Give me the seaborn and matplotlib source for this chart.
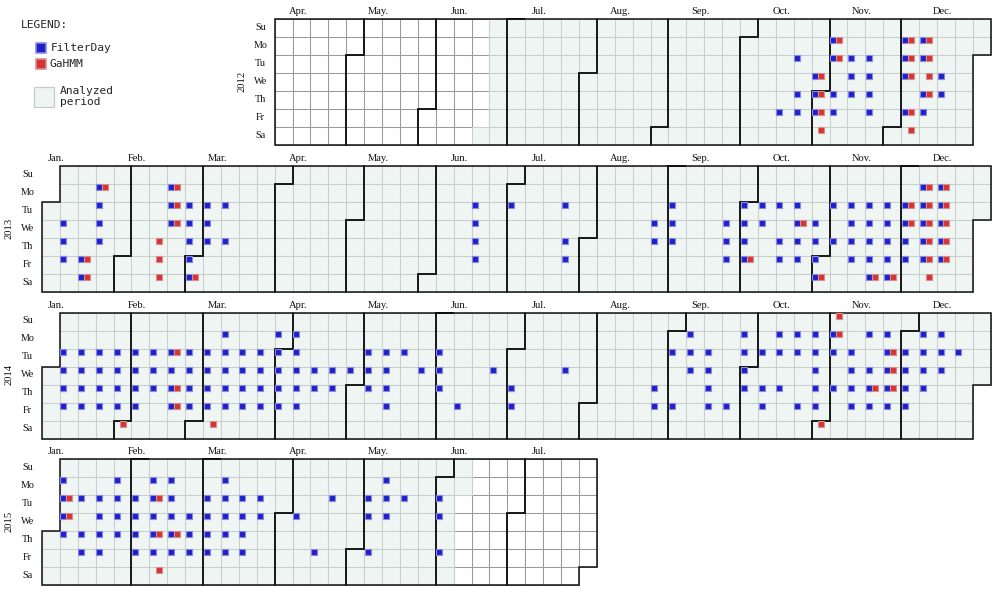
import matplotlib
matplotlib.use("Agg")
import matplotlib.pyplot as plt
from matplotlib.patches import Rectangle, Polygon
from matplotlib.collections import PatchCollection
import pandas as pd
import seaborn as sns

# ---- data -------------------------------------------------------------
years = [2012, 2013, 2014, 2015]
shown_from = ["2012-04-01", "2013-01-01", "2014-01-01", "2015-01-01"]
shown_to = ["2012-12-31", "2013-12-31", "2014-12-31", "2015-07-31"]
analyzed_from = "2012-06-23"
analyzed_to = "2015-06-08"
day_names = ["Su", "Mo", "Tu", "We", "Th", "Fr", "Sa"]
month_names = ["Jan.", "Feb.", "Mar.", "Apr.", "May.", "Jun.",
               "Jul.", "Aug.", "Sep.", "Oct.", "Nov.", "Dec."]

filterday_2012 = ["10-19", "10-23", "10-25", "10-26", "10-31", "11-01", "11-02", "11-05",
                  "11-06", "11-08", "11-09", "11-13", "11-14", "11-15", "11-20", "11-21",
                  "11-22", "11-23", "12-03", "12-04", "12-05", "12-07", "12-10", "12-11",
                  "12-13", "12-14", "12-19", "12-20"]
gahmm_2012 = ["10-31", "11-01", "11-02", "11-03", "11-05", "11-06", "12-03", "12-04",
              "12-05", "12-07", "12-08", "12-10", "12-11", "12-12", "12-13"]

filterday_2013 = ["01-09", "01-10", "01-11", "01-18", "01-19", "01-21", "01-22", "01-23",
                  "01-24", "02-18", "02-19", "02-20", "02-26", "02-27", "02-28", "03-01",
                  "03-02", "03-05", "03-06", "03-07", "03-12", "03-14", "06-18", "06-19",
                  "06-20", "06-21", "07-02", "07-23", "07-25", "07-26", "08-28", "08-29",
                  "09-03", "09-04", "09-05", "09-25", "09-26", "09-27", "10-01", "10-02",
                  "10-03", "10-04", "10-08", "10-09", "10-15", "10-17", "10-18", "10-22",
                  "10-23", "10-24", "10-25", "10-30", "10-31", "11-01", "11-02", "11-05",
                  "11-07", "11-12", "11-13", "11-14", "11-15", "11-19", "11-20", "11-21",
                  "11-22", "11-23", "11-26", "11-27", "11-28", "11-29", "11-30", "12-03",
                  "12-04", "12-05", "12-06", "12-09", "12-10", "12-11", "12-12", "12-13",
                  "12-16", "12-17", "12-18", "12-19", "12-20"]
gahmm_2013 = ["01-18", "01-19", "01-21", "02-14", "02-15", "02-16", "02-18", "02-19",
              "02-20", "03-02", "10-04", "10-23", "11-02", "11-23", "11-30", "12-03",
              "12-04", "12-09", "12-10", "12-11", "12-12", "12-13", "12-14", "12-16",
              "12-17", "12-18", "12-19", "12-20"]

filterday_2014 = ["01-07", "01-08", "01-09", "01-10", "01-14", "01-15", "01-16", "01-17",
                  "01-21", "01-22", "01-23", "01-24", "01-28", "01-29", "01-30", "01-31",
                  "02-04", "02-05", "02-06", "02-07", "02-11", "02-12", "02-13", "02-18",
                  "02-19", "02-20", "02-21", "02-25", "02-26", "02-27", "02-28", "03-04",
                  "03-05", "03-06", "03-07", "03-10", "03-11", "03-12", "03-13", "03-14",
                  "03-18", "03-19", "03-20", "03-21", "03-25", "03-26", "03-27", "03-28",
                  "03-31", "04-01", "04-02", "04-03", "04-04", "04-07", "04-08", "04-09",
                  "04-10", "04-11", "04-16", "04-17", "04-23", "04-24", "04-30", "05-06",
                  "05-07", "05-08", "05-13", "05-14", "05-15", "05-16", "05-20", "05-28",
                  "06-03", "06-04", "06-05", "06-13", "06-25", "07-03", "07-04", "07-23",
                  "08-28", "08-29", "09-02", "09-05", "09-08", "09-09", "09-10", "09-16",
                  "09-17", "09-18", "09-19", "09-26", "09-29", "09-30", "10-01", "10-02",
                  "10-07", "10-09", "10-10", "10-13", "10-14", "10-16", "10-20", "10-21",
                  "10-24", "10-27", "10-28", "10-29", "10-30", "10-31", "11-03", "11-04",
                  "11-06", "11-11", "11-12", "11-13", "11-14", "11-17", "11-19", "11-20",
                  "11-21", "11-24", "11-25", "11-26", "11-27", "11-28", "12-02", "12-03",
                  "12-04", "12-05", "12-08", "12-09", "12-10", "12-11", "12-15", "12-16",
                  "12-17", "12-23"]
gahmm_2014 = ["02-01", "02-18", "02-20", "02-21", "03-08", "11-01", "11-02", "11-03",
              "11-20", "11-25", "11-26", "11-27"]

filterday_2015 = ["01-05", "01-06", "01-07", "01-08", "01-13", "01-15", "01-16", "01-20",
                  "01-21", "01-22", "01-23", "01-26", "01-27", "01-28", "01-29", "02-03",
                  "02-04", "02-05", "02-06", "02-09", "02-10", "02-11", "02-12", "02-13",
                  "02-16", "02-17", "02-18", "02-19", "02-20", "02-25", "02-26", "02-27",
                  "03-03", "03-04", "03-05", "03-06", "03-09", "03-10", "03-11", "03-12",
                  "03-13", "03-17", "03-18", "03-19", "03-20", "03-24", "03-25", "04-08",
                  "04-17", "04-21", "05-05", "05-06", "05-08", "05-11", "05-12", "05-13",
                  "05-19", "06-02", "06-03", "06-05"]
gahmm_2015 = ["01-06", "01-07", "02-10", "02-12", "02-14", "02-19"]

filterday = {2012: filterday_2012, 2013: filterday_2013, 2014: filterday_2014, 2015: filterday_2015}
gahmm = {2012: gahmm_2012, 2013: gahmm_2013, 2014: gahmm_2014, 2015: gahmm_2015}

# ---- layout (pixels of the 1002x593 canvas) ----------------------------
CW, CH = 17.9, 18.0       # cell size
X0, Y0 = 42.0, 19.3       # left of week 0, top of the first block
BLOCK = 8.15              # vertical step between year blocks, in cells
GREEN = "#eef5f2"


def week0(year):
    jan1 = pd.Timestamp(year, 1, 1)
    return jan1 - pd.Timedelta(days=(jan1.dayofweek + 1) % 7)


def week_of(d, year):
    return (d - week0(year)).days // 7


def dow(d):
    return (d.dayofweek + 1) % 7


def px(x, y):
    return (x - X0) / CW, (y - Y0) / CH


sns.set_style("white")
plt.rcParams["font.family"] = ["DejaVu Sans"]

fig = plt.figure(figsize=(10.02, 5.93), dpi=100)
ax = fig.add_axes([0, 0, 1, 1])
ax.set_xlim(-X0 / CW, (1002 - X0) / CW)
ax.set_ylim((593 - Y0) / CH, -Y0 / CH)
ax.axis("off")

a0, a1 = pd.Timestamp(analyzed_from), pd.Timestamp(analyzed_to)
serif = ["Liberation Serif", "DejaVu Serif"]
marks = []

for i, year in enumerate(years):
    yo = i * BLOCK
    days = pd.date_range(shown_from[i], shown_to[i])

    # day cells
    white, green = [], []
    for d in days:
        r = Rectangle((week_of(d, year), yo + dow(d)), 1, 1)
        (green if a0 <= d <= a1 else white).append(r)
    ax.add_collection(PatchCollection(white, facecolor="white", edgecolor="#9a9a9a",
                                      linewidth=0.75, zorder=1))
    ax.add_collection(PatchCollection(green, facecolor=GREEN, edgecolor="#c9cfcc",
                                      linewidth=0.75, zorder=2))

    # month outlines and labels
    for m in sorted(set(days.month)):
        t0 = pd.Timestamp(year, m, 1)
        t1 = t0 + pd.offsets.MonthBegin(1)
        w0, d0 = week_of(t0, year), dow(t0)
        w1, d1 = week_of(t1, year), dow(t1)
        pts = [(w0 + 1, d0), (w0, d0), (w0, 7), (w1, 7), (w1, d1),
               (w1 + 1, d1), (w1 + 1, 0), (w0 + 1, 0)]
        ax.add_patch(Polygon([(x, yo + y) for x, y in pts], closed=True, fill=False,
                             edgecolor="#111111", linewidth=1.1, zorder=3))
        ax.text(0.8 + 4.5 * (m - 1), yo - 0.42, month_names[m - 1], ha="center",
                va="center", fontsize=7.6, family=serif, color="#111111")

    first = week_of(days[0], year)
    for r, name in enumerate(day_names):
        ax.text(first - 0.8, yo + r + 0.45, name, ha="center", va="center",
                fontsize=7.3, family=serif, color="#111111")
    ax.text(first - 1.85, yo + 3.45, str(year), ha="center", va="center", rotation=90,
            fontsize=7.6, family=serif, color="#111111")

    for series, dates, dx in [("FilterDay", filterday[year], 0.2), ("GaHMM", gahmm[year], 0.53)]:
        for d in pd.to_datetime([f"{year}-{md}" for md in dates]):
            marks.append({"series": series, "x": week_of(d, year) + dx,
                          "y": yo + dow(d) + 0.17})

marks = pd.DataFrame(marks)
styles = {"FilterDay": ("#2020c8", "#8a8ae4"), "GaHMM": ("#d83232", "#d49090")}
for series, (face, edge) in styles.items():
    sub = marks[marks["series"] == series]
    sns.scatterplot(data=sub, x="x", y="y", marker="s", s=17, color=face,
                    edgecolor=edge, linewidth=0.8, ax=ax, zorder=5, legend=False)

# ---- legend ------------------------------------------------------------
mono = ["DejaVu Sans Mono"]
ax.text(*px(20.5, 25), "LEGEND:", ha="left", va="center", fontsize=8.1, family=mono)
for (series, (face, edge)), ly in zip(styles.items(), [48, 63.7]):
    lx, lyy = px(40.8, ly)
    ax.scatter([lx], [lyy], marker="s", s=42, color=face, edgecolor=edge,
               linewidth=1.2, zorder=5)
    ax.text(*px(51 if series == "FilterDay" else 50, ly), series, ha="left",
            va="center", fontsize=8.1, family=mono)
bx, by = px(34.3, 87.3)
ax.add_patch(Rectangle((bx, by), 20 / CW, 19.4 / CH, facecolor=GREEN,
                       edgecolor="#c6cbc9", linewidth=0.9, zorder=2))
ax.text(*px(60, 96.7), "Analyzed\nperiod", ha="left", va="center", fontsize=8.1,
        family=mono, linespacing=1.2)

fig.savefig("out.png", dpi=100)
